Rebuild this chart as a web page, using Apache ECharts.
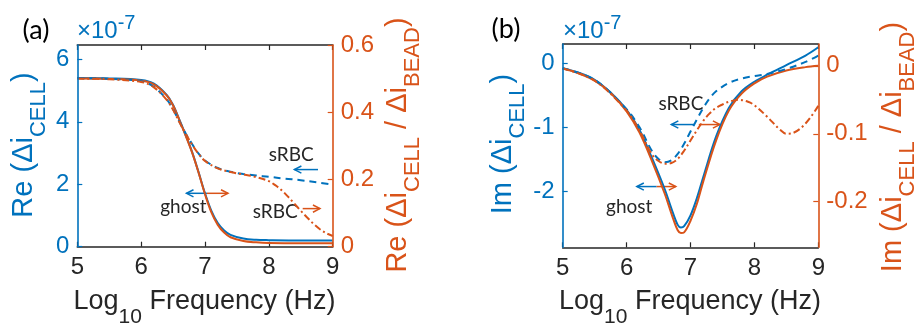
<!DOCTYPE html>
<html>
<head>
<meta charset="utf-8">
<script src="https://cdn.jsdelivr.net/npm/echarts@6/dist/echarts.min.js"></script>
<style>
  html, body { margin: 0; padding: 0; background: #fff; }
  #chart { width: 921px; height: 332px; }
</style>
</head>
<body>
<div id="chart"></div>
<script>
// ---- data: log10 frequency (Hz) vs. cell response ----
const freqTicks = [5, 6, 7, 8, 9];

// (a) real part, ghost cell
const reGhostX     = [5, 5.5, 6, 6.2, 6.4, 6.5, 6.6, 6.7, 6.8, 6.9, 7.0, 7.1, 7.2, 7.3, 7.4, 7.6, 7.8, 8.0, 8.5, 9.0];
const reGhostCell  = [5.40, 5.39, 5.34, 5.22, 4.86, 4.54, 4.06, 3.56, 3.02, 2.38, 1.71, 1.15, 0.76, 0.52, 0.38, 0.26, 0.22, 0.21, 0.20, 0.20];
const reGhostRatio = [0.500, 0.499, 0.494, 0.483, 0.450, 0.420, 0.376, 0.329, 0.279, 0.220, 0.156, 0.102, 0.065, 0.042, 0.028, 0.017, 0.013, 0.011, 0.010, 0.010];

// (a) real part, sRBC
const reSrbcCellX  = [5, 5.5, 6, 6.2, 6.4, 6.5, 6.6, 6.7, 6.8, 6.9, 7.0, 7.2, 7.4, 7.6, 7.8, 8.0, 8.25, 8.5, 8.75, 9.0];
const reSrbcCell   = [5.40, 5.38, 5.30, 5.12, 4.72, 4.40, 4.00, 3.62, 3.28, 2.98, 2.76, 2.52, 2.40, 2.33, 2.28, 2.24, 2.18, 2.13, 2.06, 1.99];
const reSrbcRatioX = [5, 5.5, 6, 6.2, 6.4, 6.5, 6.6, 6.7, 6.8, 6.9, 7.0, 7.2, 7.4, 7.6, 7.8, 8.0, 8.1, 8.2, 8.3, 8.4, 8.5, 8.6, 8.7, 8.8, 8.9, 9.0];
const reSrbcRatio  = [0.500, 0.498, 0.490, 0.474, 0.437, 0.407, 0.370, 0.335, 0.303, 0.276, 0.255, 0.233, 0.222, 0.215, 0.207, 0.195, 0.183, 0.168, 0.149, 0.128, 0.107, 0.087, 0.068, 0.052, 0.040, 0.032];

// (b) imaginary part, ghost cell
const imGhostX     = [5, 5.25, 5.5, 5.75, 6, 6.2, 6.4, 6.6, 6.7, 6.8, 6.85, 6.9, 7.0, 7.1, 7.2, 7.4, 7.6, 7.8, 8.0, 8.2, 8.5, 8.8, 9.0];
const imGhostCell  = [-0.08, -0.15, -0.26, -0.46, -0.73, -1.04, -1.49, -1.98, -2.27, -2.53, -2.57, -2.55, -2.38, -2.11, -1.78, -1.15, -0.70, -0.44, -0.29, -0.18, -0.03, 0.12, 0.25];
const imGhostRatio = [-0.004, -0.011, -0.022, -0.040, -0.067, -0.098, -0.141, -0.189, -0.217, -0.242, -0.246, -0.245, -0.228, -0.203, -0.170, -0.110, -0.066, -0.041, -0.026, -0.016, -0.007, -0.002, 0.000];

// (b) imaginary part, sRBC
const imSrbcCellX  = [5, 5.5, 6, 6.2, 6.4, 6.5, 6.6, 6.7, 6.8, 6.9, 7.0, 7.1, 7.2, 7.3, 7.4, 7.6, 7.8, 8.0, 8.2, 8.5, 8.8, 9.0];
const imSrbcCell   = [-0.08, -0.26, -0.72, -1.00, -1.38, -1.50, -1.55, -1.52, -1.42, -1.26, -1.07, -0.88, -0.70, -0.55, -0.44, -0.31, -0.24, -0.20, -0.17, -0.09, 0.02, 0.12];
const imSrbcRatioX = [5, 5.5, 6, 6.2, 6.4, 6.5, 6.6, 6.7, 6.8, 6.9, 7.0, 7.1, 7.2, 7.3, 7.4, 7.5, 7.6, 7.75, 7.9, 8.0, 8.2, 8.4, 8.5, 8.6, 8.8, 9.0];
const imSrbcRatio  = [-0.004, -0.022, -0.066, -0.095, -0.131, -0.140, -0.144, -0.143, -0.137, -0.125, -0.110, -0.095, -0.081, -0.070, -0.062, -0.057, -0.053, -0.050, -0.053, -0.058, -0.075, -0.094, -0.100, -0.099, -0.085, -0.059];

// tick labels of the y axes
const reCellTicks  = [0, 2, 4, 6];
const reRatioTicks = [0, 0.2, 0.4, 0.6];
const imCellTicks  = [-2, -1, 0];
const imRatioTicks = [-0.2, -0.1, 0];

// ---- styling ----
const BLUE = '#0072BD', ORANGE = '#D95319', INK = '#262626';
const AXIS_FONT = '"Liberation Sans", Arial, sans-serif';
const NOTE_FONT = 'Lato, "Open Sans", sans-serif';
const LINE_W = 1.6;

const pairs = (xs, ys) => xs.map((x, i) => [x, ys[i]]);

function xAxisDef(gridIndex, top) {
  return {
    type: 'value', gridIndex, position: top ? 'top' : 'bottom',
    min: freqTicks[0], max: freqTicks[freqTicks.length - 1], interval: 1,
    axisLine: { onZero: false, lineStyle: { color: INK, width: LINE_W } },
    axisTick: { inside: true, length: 5, lineStyle: { color: INK, width: 1.2 } },
    axisLabel: { show: !top, color: INK, fontSize: 24, fontFamily: AXIS_FONT, margin: 9 },
    splitLine: { show: false }
  };
}

function yAxisDef(gridIndex, right, min, max, ticks, color, fmt) {
  return {
    type: 'value', gridIndex, position: right ? 'right' : 'left',
    min, max, z: 3,
    axisLine: { show: true, onZero: false, lineStyle: { color, width: LINE_W } },
    axisTick: { show: true, inside: true, length: 5, lineStyle: { color, width: 1.2 }, customValues: ticks },
    axisLabel: { color, fontSize: 24, fontFamily: AXIS_FONT, margin: 8, customValues: ticks, formatter: fmt },
    splitLine: { show: false }
  };
}

const fmtInt = v => String(Math.round(v));
const fmtOne = v => (Math.abs(v) < 1e-9 ? '0' : v.toFixed(1));

function lineSeries(xi, yi, data, color, dash) {
  return {
    type: 'line', xAxisIndex: xi, yAxisIndex: yi, data,
    smooth: 0.35, showSymbol: false, symbol: 'none', silent: true,
    lineStyle: { color, width: 2, type: dash || 'solid', cap: 'butt' },
    z: 2
  };
}

const chart = echarts.init(document.getElementById('chart'), null, { renderer: 'canvas' });

chart.setOption({
  animation: false,
  backgroundColor: '#fff',
  grid: [
    { left: 77.3, top: 45, width: 255.4, height: 201.7 },
    { left: 562.7, top: 44, width: 255.6, height: 203.3 }
  ],
  xAxis: [xAxisDef(0, false), xAxisDef(0, true), xAxisDef(1, false), xAxisDef(1, true)],
  yAxis: [
    yAxisDef(0, false, 0, 6.46, reCellTicks, BLUE, fmtInt),
    yAxisDef(0, true, 0, 0.6, reRatioTicks, ORANGE, fmtOne),
    yAxisDef(1, false, -2.88, 0.30, imCellTicks, BLUE, fmtInt),
    yAxisDef(1, true, -0.267, 0.032, imRatioTicks, ORANGE, fmtOne)
  ],
  series: [
    lineSeries(0, 0, pairs(reGhostX, reGhostCell), BLUE),
    lineSeries(0, 1, pairs(reGhostX, reGhostRatio), ORANGE),
    lineSeries(0, 0, pairs(reSrbcCellX, reSrbcCell), BLUE, [7, 5]),
    lineSeries(0, 1, pairs(reSrbcRatioX, reSrbcRatio), ORANGE, [7, 3, 2, 3]),
    lineSeries(2, 2, pairs(imGhostX, imGhostCell), BLUE),
    lineSeries(2, 3, pairs(imGhostX, imGhostRatio), ORANGE),
    lineSeries(2, 2, pairs(imSrbcCellX, imSrbcCell), BLUE, [7, 5]),
    lineSeries(2, 3, pairs(imSrbcRatioX, imSrbcRatio), ORANGE, [7, 3, 2, 3])
  ]
});

// ---- text with sub/superscripts, built from measured pieces ----
const measure = document.createElement('canvas').getContext('2d');
function textWidth(str, size, family) {
  measure.font = size + 'px ' + family;
  return measure.measureText(str).width;
}

// parts: [{t, sub?, sup?}]; (x, y) is the centre (or left end) of the main text's middle line
function composedText(parts, x, y, opts) {
  const size = opts.size, small = opts.small, family = opts.family || AXIS_FONT;
  let w = 0;
  const items = parts.map(p => {
    const fs = (p.sub || p.sup) ? small : size;
    const it = { p, fs, x: w };
    w += textWidth(p.t, fs, family);
    return it;
  });
  const start = opts.alignLeft ? 0 : -w / 2;
  return {
    type: 'group', x, y, rotation: opts.rotation || 0, silent: true,
    children: items.map(it => ({
      type: 'text',
      x: start + it.x,
      y: it.p.sub ? opts.drop : (it.p.sup ? -opts.rise : 0),
      style: {
        text: it.p.t, fontSize: it.fs, fontFamily: family, fill: opts.color,
        align: 'left', verticalAlign: 'middle', textAlign: 'left', textVerticalAlign: 'middle'
      }
    }))
  };
}

function plainText(str, pos, size, color, family) {
  return {
    type: 'text', x: pos[0], y: pos[1], silent: true,
    style: {
      text: str, fontSize: size, fontFamily: family || NOTE_FONT, fill: color,
      align: 'center', verticalAlign: 'middle', textAlign: 'center', textVerticalAlign: 'middle'
    }
  };
}

function arrow(p0, p1, color) {
  const dx = p1[0] - p0[0], dy = p1[1] - p0[1];
  const len = Math.hypot(dx, dy), ux = dx / len, uy = dy / len;
  const hl = 7, hw = 3.6;
  const b = [p1[0] - ux * hl, p1[1] - uy * hl];
  const st = { stroke: color, lineWidth: 1.5, fill: null };
  return [
    { type: 'polyline', silent: true, shape: { points: [p0, p1] }, style: st },
    { type: 'polyline', silent: true,
      shape: { points: [[b[0] - uy * hw, b[1] + ux * hw], p1, [b[0] + uy * hw, b[1] - ux * hw]] },
      style: st }
  ];
}

// annotation anchors in data units of each panel's left axis
const pa = v => chart.convertToPixel({ xAxisIndex: 0, yAxisIndex: 0 }, v);
const pb = v => chart.convertToPixel({ xAxisIndex: 2, yAxisIndex: 2 }, v);

const ROT = Math.PI / 2;
const titleOpts = c => ({ size: 29, small: 22, drop: 15, color: c, rotation: ROT });
const xTitle = [{ t: 'Log' }, { t: '10', sub: true }, { t: ' Frequency (Hz)' }];
const expOpts = { size: 24, small: 20, rise: 8, color: BLUE, alignLeft: true };

const graphics = [
  plainText('(a)', [36, 30], 27, '#000'),
  plainText('(b)', [506, 29], 27, '#000'),
  composedText([{ t: '×10' }, { t: '-7', sup: true }], 77, 31, expOpts),
  composedText([{ t: '×10' }, { t: '-7', sup: true }], 563, 31, expOpts),

  composedText([{ t: 'Re (Δi' }, { t: 'CELL', sub: true }, { t: ')' }], 24, 145, titleOpts(BLUE)),
  composedText([{ t: 'Re (Δi' }, { t: 'CELL', sub: true }, { t: ' / Δi' }, { t: 'BEAD', sub: true }, { t: ')' }], 398, 145, titleOpts(ORANGE)),
  composedText([{ t: 'Im (Δi' }, { t: 'CELL', sub: true }, { t: ')' }], 503, 144, titleOpts(BLUE)),
  composedText([{ t: 'Im (Δi' }, { t: 'CELL', sub: true }, { t: ' / Δi' }, { t: 'BEAD', sub: true }, { t: ')' }], 893, 147, titleOpts(ORANGE)),
  composedText(xTitle, 204.5, 302, { size: 27, small: 21, drop: 15, color: INK }),
  composedText(xTitle, 690, 302, { size: 27, small: 21, drop: 15, color: INK }),

  // panel (a) notes
  plainText('sRBC', pa([8.35, 2.94]), 19, INK),
  ...arrow(pa([8.77, 2.47]), pa([8.40, 2.47]), BLUE),
  plainText('ghost', pa([6.66, 1.29]), 19, INK),
  ...arrow(pa([7.03, 1.71]), pa([6.71, 1.71]), BLUE),
  ...arrow(pa([7.03, 1.71]), pa([7.36, 1.71]), ORANGE),
  plainText('sRBC', pa([8.10, 1.12]), 19, INK),
  ...arrow(pa([8.53, 1.22]), pa([8.80, 1.22]), ORANGE),

  // panel (b) notes
  plainText('sRBC', pb([6.85, -0.64]), 19, INK),
  ...arrow(pb([7.07, -0.96]), pb([6.70, -0.96]), BLUE),
  ...arrow(pb([7.13, -0.96]), pb([7.46, -0.96]), ORANGE),
  plainText('ghost', pb([6.04, -2.24]), 19, INK),
  ...arrow(pb([6.47, -1.93]), pb([6.16, -1.93]), BLUE),
  ...arrow(pb([6.47, -1.93]), pb([6.77, -1.93]), ORANGE)
];

chart.setOption({ graphic: graphics });
</script>
</body>
</html>
